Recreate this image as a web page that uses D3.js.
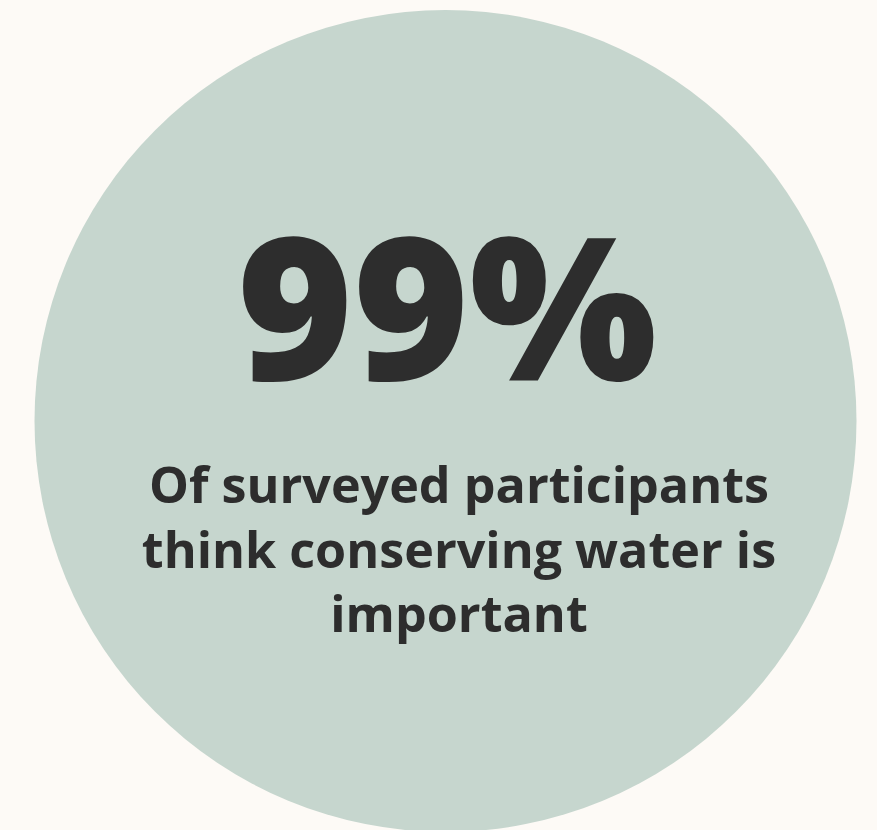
<!DOCTYPE html>
<html>
<head>
<meta charset="utf-8">
<script src="https://cdn.jsdelivr.net/npm/d3@7"></script>
<style>
  html, body { margin: 0; padding: 0; background: #fdfaf6; }
  svg { display: block; }
  text { font-family: "Open Sans", "Noto Sans", sans-serif; fill: #2d2d2d; }
</style>
</head>
<body>
<svg id="chart"></svg>
<script>
// Stat shown in the circle
const statValues = [99];
const statUnits = ['%'];
const captionLines = [
  'Of surveyed participants',
  'think conserving water is',
  'important'
];

const width = 877, height = 830;

const svg = d3.select('#chart')
    .attr('width', width)
    .attr('height', height);

// Circle fills nearly the whole frame
const r = d3.scaleLinear().domain([0, 100]).range([0, 411]);

svg.append('circle')
    .attr('cx', 445.5)
    .attr('cy', 421)
    .attr('r', r(100))
    .attr('fill', '#c6d6ce');

const stat = svg.selectAll('.stat')
    .data(statValues)
  .join('text')
    .attr('class', 'stat')
    .attr('x', 447)
    .attr('y', 380)
    .attr('text-anchor', 'middle')
    .style('font-size', '200px')
    .style('font-weight', 800)
    .text((d, i) => d + statUnits[i]);

const caption = svg.selectAll('.caption')
    .data(captionLines)
  .join('text')
    .attr('class', 'caption')
    .attr('x', 459)
    .attr('y', (d, i) => 503 + i * 64.5)
    .attr('text-anchor', 'middle')
    .style('font-size', '50px')
    .style('font-weight', 700)
    .text(d => d);

// fit text widths to the layout
const statW = stat.node().getComputedTextLength();
stat.style('font-size', (200 * 420 / statW) + 'px');
const capW = caption.nodes()[0].getComputedTextLength();
caption.style('font-size', Math.min(54, 50 * 620 / capW) + 'px');
</script>
</body>
</html>
